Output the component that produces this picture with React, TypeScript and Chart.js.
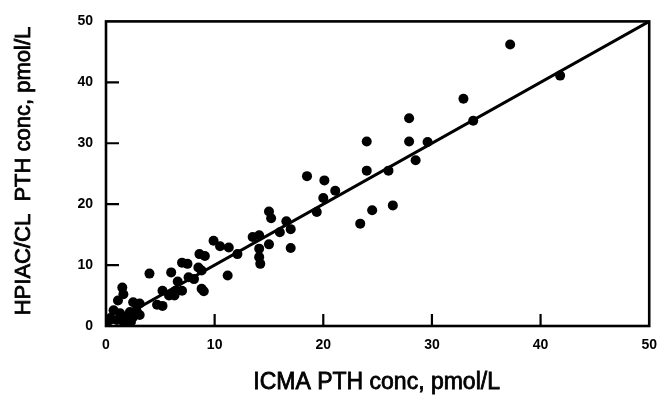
import React, { useEffect, useRef } from "react";
import { Chart, registerables } from "chart.js";

Chart.register(...registerables);

const xLabel = "ICMA PTH conc, pmol/L";
const yLabel = "HPIAC/CL  PTH conc, pmol/L";
const tickValues = [0, 10, 20, 30, 40, 50];

const icma = [
  37.2, 41.8, 32.9, 33.8, 27.9, 24.0, 27.9, 29.6, 28.5, 24.0,
  26.0, 26.4, 24.5, 23.4, 18.5, 20.1, 21.1, 20.0, 19.4, 15.0,
  15.2, 16.6, 17.0, 16.0, 14.1, 13.5, 15.0, 17.0, 14.1, 14.1,
  14.2, 12.1, 11.3, 11.2, 9.9, 10.5, 8.6, 9.1, 7.0, 7.5,
  8.5, 8.8, 6.0, 7.6, 8.1, 6.6, 8.8, 9.0, 7.0, 6.3,
  4.0, 1.5, 1.6, 1.1, 2.5, 3.1, 5.2, 5.8, 6.4, 4.7,
  5.2, 0.7, 1.3, 2.2, 2.8, 0.4, 1.0, 1.9, 2.5, 3.1,
  1.6, 2.3, 0.1,
];
const hpiac = [
  46.2, 41.1, 37.3, 33.7, 34.1, 30.3, 30.3, 30.2, 27.2, 25.5,
  25.5, 19.8, 19.0, 16.8, 24.6, 23.9, 22.2, 21.0, 18.7, 18.8,
  17.7, 17.2, 15.9, 15.4, 14.9, 14.6, 13.4, 12.8, 12.7, 11.3,
  10.2, 11.8, 12.9, 8.3, 14.0, 13.1, 11.8, 11.5, 10.4, 10.2,
  9.6, 9.1, 8.8, 8.0, 7.7, 7.3, 6.1, 5.7, 5.8, 5.0,
  8.6, 6.3, 5.2, 4.2, 3.9, 3.7, 5.8, 5.0, 5.8, 3.5,
  3.3, 2.6, 2.1, 2.3, 2.6, 1.3, 1.0, 1.5, 1.5, 1.8,
  0.7, 0.7, 0.7,
];
const lineX = [0, 50];
const lineY = [0, 50];

const framePlugin = {
  id: "frameAndTitles",
  afterDatasetsDraw(chart: any) {
    const { ctx, chartArea, scales } = chart;
    const { left, right, top, bottom } = chartArea;
    ctx.save();
    ctx.strokeStyle = "#000";
    ctx.lineWidth = 2.6;
    ctx.strokeRect(left, top, right - left, bottom - top);
    ctx.beginPath();
    ctx.lineWidth = 2.2;
    tickValues.slice(1, -1).forEach((v) => {
      const px = scales.x.getPixelForValue(v);
      ctx.moveTo(px, bottom);
      ctx.lineTo(px, bottom - 12);
      const py = scales.y.getPixelForValue(v);
      ctx.moveTo(left, py);
      ctx.lineTo(left + 13, py);
    });
    ctx.stroke();

    ctx.fillStyle = "#000";
    ctx.strokeStyle = "#000";
    ctx.lineWidth = 0.8;
    ctx.textAlign = "center";
    ctx.textBaseline = "middle";
    ctx.font = "23px 'Liberation Sans', Arial, sans-serif";
    ctx.fillText(xLabel, (left + right) / 2 - 1, 383);
    ctx.strokeText(xLabel, (left + right) / 2 - 1, 383);
    ctx.translate(24, 171);
    ctx.rotate(-Math.PI / 2);
    ctx.font = "22px 'Liberation Sans', Arial, sans-serif";
    ctx.fillText(yLabel, 0, 0);
    ctx.strokeText(yLabel, 0, 0);
    ctx.restore();
  },
};

export default function App() {
  const ref = useRef<HTMLCanvasElement | null>(null);
  useEffect(() => {
    if (!ref.current) return;
    const tickFont = { family: "'Liberation Sans', Arial, sans-serif", size: 14, weight: "bold" as const };
    const chart = new Chart(ref.current, {
      type: "scatter",
      data: {
        datasets: [
          {
            type: "line",
            data: lineX.map((x, i) => ({ x, y: lineY[i] })),
            borderColor: "#000",
            borderWidth: 3,
            pointRadius: 0,
            fill: false,
          } as any,
          {
            data: icma.map((x, i) => ({ x, y: hpiac[i] })),
            backgroundColor: "#000",
            borderWidth: 0,
            pointRadius: 5,
            pointHoverRadius: 5,
          },
        ],
      },
      options: {
        responsive: false,
        animation: false,
        devicePixelRatio: 1,
        layout: { padding: { top: 17, right: 11, left: 0, bottom: 0 } },
        plugins: { legend: { display: false }, tooltip: { enabled: false } },
        scales: {
          x: {
            type: "linear",
            min: 0,
            max: 50,
            afterBuildTicks: (s: any) => { s.ticks = tickValues.map((v) => ({ value: v })); },
            afterFit: (s: any) => { s.height = 73; },
            grid: { display: false, drawTicks: false },
            border: { display: false },
            ticks: { font: tickFont, color: "#000", padding: 11, maxRotation: 0 },
          },
          y: {
            type: "linear",
            min: 0,
            max: 50,
            afterBuildTicks: (s: any) => { s.ticks = tickValues.map((v) => ({ value: v })); },
            afterFit: (s: any) => { s.width = 106; },
            grid: { display: false, drawTicks: false },
            border: { display: false },
            ticks: { font: tickFont, color: "#000", padding: 13 },
          },
        },
      },
      plugins: [framePlugin],
    });
    return () => chart.destroy();
  }, []);
  return (
    <div style={{ position: "fixed", left: 0, top: 0, width: 668, height: 399, background: "#fff" }}>
      <canvas ref={ref} width={668} height={399} />
    </div>
  );
}
